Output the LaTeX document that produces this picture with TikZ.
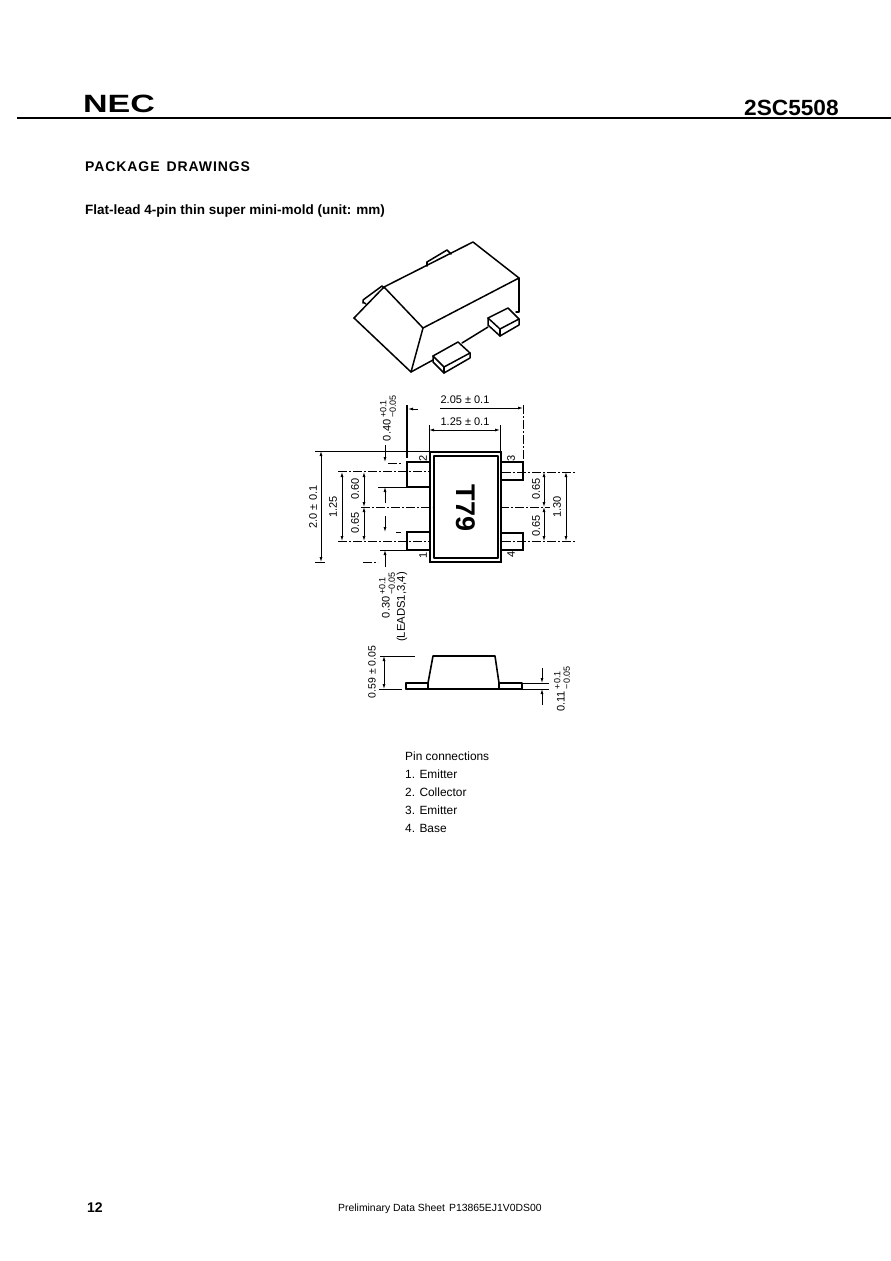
\documentclass[tikz,border=0pt]{standalone}
\usepackage{fontspec}
\setmainfont{Liberation Sans}
\usetikzlibrary{arrows.meta}
\newcommand{\fsz}[1]{\fontsize{#1}{#1}\selectfont}
\newcommand{\tol}[2]{$\vcenter{\hbox{\fsz{9}\shortstack[l]{#1\\#2}}}$}
\tikzset{
 txt/.style={inner sep=0pt,anchor=west,text=black},
 dimtxt/.style={inner sep=0pt,font=\fsz{11},text=black},
 vdim/.style={dimtxt,rotate=90},
 part/.style={line width=1.5pt,line join=round,line cap=round,black},
 heavy/.style={line width=2.1pt,black,line join=miter},
 ext/.style={line width=0.8pt,black},
 extd/.style={line width=0.8pt,black,dash pattern=on 9pt off 2pt on 2pt off 2pt},
 dimtip/.style={line width=0.8pt,black,{Latex[length=5pt,width=3pt]}-{Latex[length=5pt,width=3pt]}},
 dimend/.style={line width=0.8pt,black,-{Latex[length=5pt,width=3pt]}},
}
\begin{document}
\begin{tikzpicture}[x=1pt,y=-1pt]
\useasboundingbox (0,0) rectangle (891,1261);
\fill[white] (0,0) rectangle (891,1261);
% header
\draw[line width=2pt] (17,118) -- (891,118);
\node[txt,font=\fsz{25}\bfseries] (nec) at (83,104) {\addfontfeature{FakeStretch=1.36}NEC};
\node[txt,font=\fsz{22}\bfseries] (part) at (744,108) {\addfontfeature{FakeStretch=1.03}2SC5508};
\node[txt,font=\fsz{14}\bfseries] (title) at (85,167) {\addfontfeature{LetterSpace=6.5}PACKAGE\hspace{7pt}DRAWINGS};
\node[txt,font=\fsz{13.5}\bfseries] (sub) at (85,211) {Flat-lead 4-pin thin super mini-mold (unit: mm)};
% 3D view
\draw[part] (354,318) -- (384,287) -- (473,242) -- (519,278) -- (423,328) -- (384,287);
\draw[part] (423,328) -- (411,372) -- (354,318);
\draw[part] (411,372) -- (433,360);
\draw[part] (462,343) -- (488,327);
\draw[part] (519,278) -- (519,312) -- (516,312);
% far leads
\draw[part] (363,303) -- (363,300) -- (382,286) -- (384,288);
\draw[part] (363,302) -- (366,304);
\draw[part] (427,262) -- (427,266);
\draw[part] (427,262) -- (447,250) -- (451,254);
% near leads
\draw[part] (433,356) -- (458,342) -- (470,353) -- (470,358) -- (444,373) -- (433,362) -- cycle;
\draw[part] (433,356) -- (444,367) -- (470,353);
\draw[part] (444,367) -- (444,373);
\draw[part] (488,318) -- (508,308) -- (519,319) -- (519,325) -- (500,336) -- (488,325) -- cycle;
\draw[part] (488,318) -- (500,329) -- (519,319);
\draw[part] (500,329) -- (500,336);
% top view body
\draw[heavy,line width=2.4pt] (430,452) rectangle (501,562);
\draw[part] (434,456) rectangle (498,558);
\node[inner sep=0pt,rotate=-90,font=\fsz{27}\bfseries] (mark) at (466,508) {T79};
% top view leads
\draw[heavy] (429,462) -- (407,462) -- (407,487) -- (429,487);
\draw[heavy] (429,532) -- (407,532) -- (407,550) -- (429,550);
\draw[heavy] (502,462) -- (523,462) -- (523,480) -- (502,480);
\draw[heavy] (502,533) -- (523,533) -- (523,550) -- (502,550);
\node[vdim,font=\fsz{11}] (p2) at (423,458) {2};
\node[vdim,font=\fsz{11}] (p3) at (511,458) {3};
\node[vdim,font=\fsz{11}] (p1) at (423,555) {1};
\node[vdim,font=\fsz{11}] (p4) at (511,554) {4};
% centre and extension lines
\draw[extd] (361,507) -- (432,507);
\draw[extd] (500,507) -- (550,507);
\draw[extd] (338,471) -- (429,471);
\draw[extd] (338,541) -- (429,541);
\draw[extd] (502,472) -- (575,472);
\draw[extd] (502,541) -- (575,541);
\draw[ext] (315,451) -- (429,451);
\draw[extd] (363,562) -- (378,562);
\draw[ext] (315,562) -- (325,562);
\draw[extd] (388,463) -- (402,463);
\draw[ext] (378,487) -- (407,487);
\draw[extd] (396,532) -- (401,532);
\draw[ext] (380,550) -- (407,550);
\draw[heavy,line width=1.6pt] (407,405) -- (407,458);
% vertical dimensions, left
\draw[dimtip] (321,451) -- (321,562);
\node[vdim] (d20) at (313,507) {2.0 ± 0.1};
\draw[dimtip] (342,472) -- (342,541);
\node[vdim] (d125) at (333,507) {1.25};
\draw[dimtip] (364,472) -- (364,507);
\draw[dimtip] (364,507) -- (364,541);
\node[vdim] (d060) at (355,489) {0.60};
\node[vdim] (d065) at (355,523) {0.65};
\draw[dimend] (385,445) -- (385,462);
\draw[dimend] (385,503) -- (385,487);
\draw[dimend] (385,516) -- (385,532);
\draw[dimend] (385,567) -- (385,550);
\draw[dimend] (418,409) -- (408,409);
\node[vdim] (d040) at (388,418) {0.40\,\tol{+0.1}{−0.05}};
% vertical dimensions, right
\draw[dimtip] (544,472) -- (544,507);
\draw[dimtip] (544,507) -- (544,541);
\draw[dimtip] (566,472) -- (566,541);
\node[vdim] (r065a) at (536,489) {0.65};
\node[vdim] (r065b) at (536,526) {0.65};
\node[vdim] (r130) at (557,507) {1.30};
% horizontal dimensions
\draw[extd] (523,405) -- (523,462);
\draw[ext] (429,425) -- (429,452);
\draw[ext] (500,425) -- (500,452);
\draw[dimend] (440,408) -- (523,408);
\draw[dimtip] (429,430) -- (500,430);
\node[dimtxt] (h205) at (465,400) {2.05 ± 0.1};
\node[dimtxt] (h125) at (465,422) {1.25 ± 0.1};
% lead dimension text
\node[vdim] (d030) at (387,595) {0.30\,\tol{+0.1}{−0.05}};
\node[vdim,font=\fsz{11.3}] (leads) at (402,607) {(LEADS1,3,4)};
% side view
\draw[part,line width=1.6pt] (428,683) -- (433,656) -- (495,656) -- (499,683);
\draw[part,line width=1.6pt] (406,689) -- (522,689);
\draw[part,line width=1.6pt] (406,689) -- (406,683) -- (428,683) -- (428,689);
\draw[part,line width=1.6pt] (499,689) -- (499,683) -- (522,683) -- (522,689);
\draw[ext] (380,656) -- (415,656);
\draw[ext] (379,689) -- (402,689);
\draw[dimtip] (384,656) -- (384,689);
\node[vdim,font=\fsz{10.5}] (s059) at (372,672) {0.59 ± 0.05};
\draw[ext] (522,683) -- (549,683);
\draw[ext] (522,689) -- (549,689);
\draw[dimend] (542,668) -- (542,683);
\draw[dimend] (542,705) -- (542,689);
\node[vdim] (s011) at (562,689) {0.11\,\tol{+0.1}{−0.05}};
% pin list
\node[txt,font=\fsz{11.9}] (pc) at (405,756) {Pin connections};
\node[txt,font=\fsz{11.9}] (pa) at (405,774) {1. Emitter};
\node[txt,font=\fsz{11.9}] (pb) at (405,792) {2. Collector};
\node[txt,font=\fsz{11.9}] (pe) at (405,810) {3. Emitter};
\node[txt,font=\fsz{11.9}] (pf) at (405,828) {4. Base};
% footer
\node[txt,font=\fsz{14}\bfseries] (pg) at (87,1208) {12};
\node[txt,font=\fsz{10.4}] (foot) at (338,1209) {Preliminary Data Sheet\hspace{4pt}P13865EJ1V0DS00};
\end{tikzpicture}
\end{document}
